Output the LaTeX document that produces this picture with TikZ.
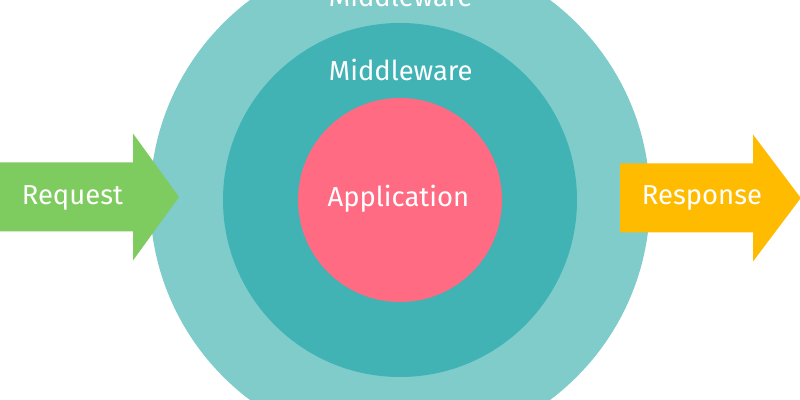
\documentclass[tikz,border=0pt]{standalone}
\usepackage{fontspec}
\setmainfont{Fira Sans}
\usepackage{tikz}

\definecolor{outerring}{HTML}{7FCCCB}
\definecolor{innerring}{HTML}{41B3B4}
\definecolor{appcore}{HTML}{FF6B82}
\definecolor{reqgreen}{HTML}{7ECB5F}
\definecolor{respamber}{HTML}{FFBB00}

\begin{document}
\begin{tikzpicture}
        \tikzstyle{ring}=[circle,inner sep=0pt]
        \tikzstyle{txt}=[text=white,anchor=base,inner sep=0pt,font=\fontsize{19.5}{23}\selectfont]
        % #1 name, #2 tail x, #3 head base x, #4 tip x, #5 axis y, #6 colour
        \newcommand\flow[6]{\fill[#6] (#2,#5-0.8625) -- (#3,#5-0.8625) -- (#3,#5-1.5875) -- (#4,#5) -- (#3,#5+1.5875) -- (#3,#5+0.8625) -- (#2,#5+0.8625) -- cycle;%
        \coordinate (#1) at (#4,#5);}
        \useasboundingbox (0,0) rectangle (20,10);
        \clip (0,0) rectangle (20,10);
        \node[ring,fill=outerring,minimum size=12.5cm] (outer) at (10,5) {};
        \node[ring,fill=innerring,minimum size=8.85cm] (middle) at (10,5) {};
        \node[ring,fill=appcore,minimum size=5.1cm] (app) at (10,5) {};
        \flow{reqtip}{-0.1}{3.325}{4.475}{5.075}{reqgreen};
        \flow{resptip}{15.5}{18.825}{20.02}{5.05}{respamber};
        \node[txt] (mw1) at (10.02,9.825) {Middleware};
        \node[txt] (mw2) at (10.02,7.975) {Middleware};
        \node[txt] (apptxt) at (9.96,4.825) {Application};
        \node[txt] (req) at (1.81,4.875) {Request};
        \node[txt] (resp) at (17.55,4.875) {Response};
\end{tikzpicture}
\end{document}
